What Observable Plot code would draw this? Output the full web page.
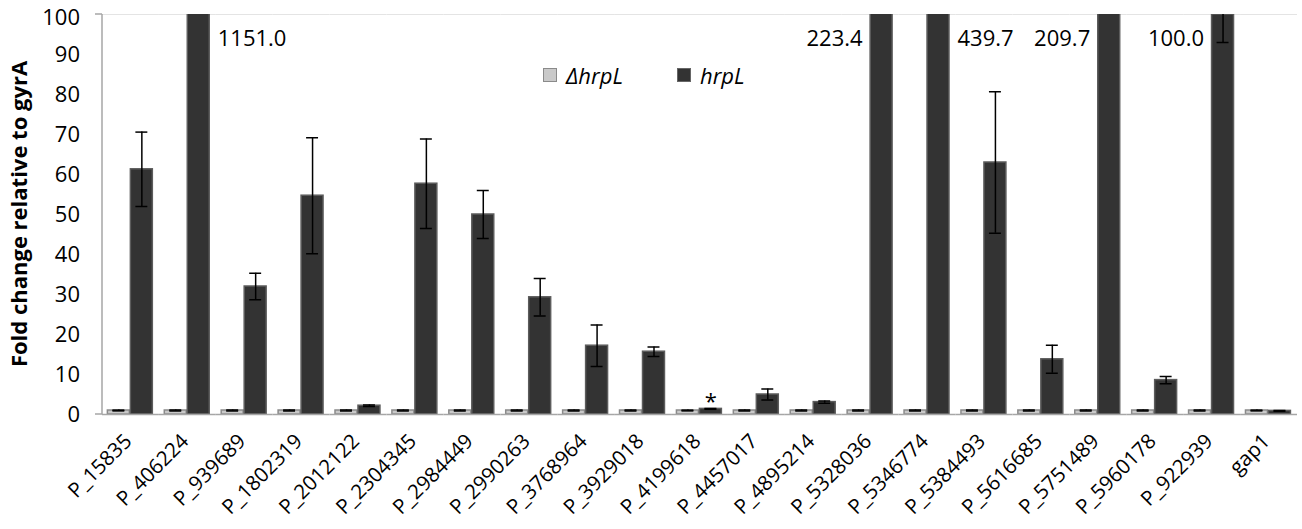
<!DOCTYPE html>
<html>
<head>
<meta charset="utf-8">
<script src="https://cdn.jsdelivr.net/npm/d3@7"></script>
<script src="https://cdn.jsdelivr.net/npm/@observablehq/plot@0.6"></script>
<style>
  body { margin: 0; background: white; }
  #wrap { position: relative; width: 1302px; height: 529px; }
  #legend { position: absolute; left: 543px; top: 60px; font-family: "Open Sans", sans-serif; font-size: 22px; font-style: italic; display: flex; align-items: center; }
  #legend .sw { display: inline-block; width: 12px; height: 12px; margin-right: 9px; }
  #legend .item { display: flex; align-items: center; }
</style>
</head>
<body>
<div id="wrap">
  <div id="legend">
    <span class="item" style="margin-right:54px"><span class="sw" style="background:#c9c9c9;border:1.5px solid #8a8a8a"></span>ΔhrpL</span>
    <span class="item"><span class="sw" style="background:#333;border:1.5px solid #666"></span>hrpL</span>
  </div>
</div>
<script>
const categories = ["P_15835","P_406224","P_939689","P_1802319","P_2012122","P_2304345","P_2984449","P_2990263","P_3768964","P_3929018","P_4199618","P_4457017","P_4895214","P_5328036","P_5346774","P_5384493","P_5616685","P_5751489","P_5960178","P_922939","gap1"];
const series = ["ΔhrpL", "hrpL"];
const dhrpLValues = [1.0,1.0,1.0,1.0,1.0,1.0,1.0,1.0,1.0,1.0,1.0,1.0,1.0,1.0,1.0,1.0,1.0,1.0,1.0,1.0,1.0];
const dhrpLErr    = [0.1,0.1,0.1,0.1,0.1,0.1,0.1,0.1,0.1,0.1,0.1,0.1,0.1,0.1,0.1,0.1,0.1,0.1,0.1,0.1,0.1];
const hrpLValues  = [61.3,1151.0,32.0,54.7,2.2,57.7,50.0,29.3,17.2,15.7,1.4,5.0,3.1,223.4,439.7,63.0,13.8,209.7,8.6,100.0,0.9];
const hrpLErr     = [9.3,0,3.3,14.5,0.2,11.2,6.0,4.7,5.2,1.2,0.1,1.4,0.3,0,0,17.7,3.5,0,0.9,7.0,0.1];
const overflowCats  = ["P_406224","P_5328036","P_5346774","P_5751489","P_922939"];
const overflowTexts = ["1151.0","223.4","439.7","209.7","100.0"];
const overflowSide  = ["right","left","right","left","left"];
const starCats = ["P_4199618"];
const yTicks = [0,10,20,30,40,50,60,70,80,90,100];

const rows = [];
categories.forEach((c, i) => {
  rows.push({cat: c, series: "ΔhrpL", value: dhrpLValues[i], lo: dhrpLValues[i] - dhrpLErr[i], hi: dhrpLValues[i] + dhrpLErr[i]});
  rows.push({cat: c, series: "hrpL", value: hrpLValues[i], lo: hrpLValues[i] - hrpLErr[i], hi: hrpLValues[i] + hrpLErr[i]});
});
const labels = overflowCats.map((c, i) => ({cat: c, text: overflowTexts[i], side: overflowSide[i], series: "hrpL"}));
const fillOf = s => s === "hrpL" ? "#333333" : "#c9c9c9";
const strokeOf = s => s === "hrpL" ? "#5c5c5c" : "#8a8a8a";
const FONT = "Open Sans, sans-serif";

const chart = Plot.plot({
  width: 1302,
  height: 529,
  marginLeft: 102,
  marginRight: 5,
  marginTop: 14,
  marginBottom: 115,
  style: {fontFamily: FONT, fontSize: "22px", color: "black", background: "white"},
  fx: {domain: categories, paddingInner: 0, paddingOuter: 0, round: false, label: null, axis: null},
  x: {domain: series, paddingInner: 0.045, paddingOuter: 0.26, align: 0.45, round: false, axis: null},
  y: {domain: [0, 100], label: null, axis: null},
  marks: [
    Plot.ruleY([100], {stroke: "#e4e4e4"}),
    Plot.barY(rows, {fx: "cat", x: "series", y: "value", fill: d => fillOf(d.series), stroke: d => strokeOf(d.series), strokeWidth: 1.5, clip: true}),
    Plot.ruleX(rows, {fx: "cat", x: "series", y1: "lo", y2: "hi", stroke: "black", strokeWidth: 1.5, clip: true}),
    Plot.tickY(rows, {fx: "cat", x: "series", y: "lo", stroke: "black", strokeWidth: 1.5, insetLeft: 5, insetRight: 5, clip: true}),
    Plot.tickY(rows, {fx: "cat", x: "series", y: "hi", stroke: "black", strokeWidth: 1.5, insetLeft: 5, insetRight: 5, clip: true}),
    Plot.ruleY([0], {stroke: "#a6a6a6", strokeWidth: 1.5}),
    Plot.text(labels.filter(d => d.side === "right"), {fx: "cat", x: "series", y: 94, text: "text", textAnchor: "start", dx: 19, fontSize: 22}),
    Plot.text(labels.filter(d => d.side === "left"), {fx: "cat", x: "series", y: 94, text: "text", textAnchor: "end", dx: -19, fontSize: 22}),
    Plot.text(starCats, {fx: d => d, x: () => "hrpL", y: 3.2, text: () => "*", fontSize: 22}),
    // category tick labels, rotated 45 degrees below each group
    Plot.text(categories, {fx: d => d, frameAnchor: "bottom", text: d => d, rotate: -45, textAnchor: "end", dx: 2, dy: 28, fontSize: 20.5})
  ]
});
const wrap = document.getElementById("wrap");
wrap.prepend(chart);

const svg = d3.select(chart);
const y = chart.scale("y");
// y axis line and end ticks
svg.append("line")
  .attr("x1", 102).attr("x2", 102)
  .attr("y1", y.apply(100)).attr("y2", y.apply(0))
  .attr("stroke", "#a6a6a6").attr("stroke-width", 1.5);
[0, 100].forEach(v => {
  svg.append("line")
    .attr("x1", 95).attr("x2", 102)
    .attr("y1", y.apply(v)).attr("y2", y.apply(v))
    .attr("stroke", "#a6a6a6").attr("stroke-width", 1.5);
});
// y tick labels
yTicks.forEach(v => {
  svg.append("text")
    .attr("x", 80).attr("y", y.apply(v)).attr("dy", v === 100 ? "0.5em" : "0.35em")
    .attr("text-anchor", "end")
    .attr("font-size", 22).attr("font-family", FONT)
    .text(v);
});
// y axis title
svg.append("text")
  .attr("transform", `translate(27,${(y.apply(0) + y.apply(100)) / 2}) rotate(-90)`)
  .attr("text-anchor", "middle")
  .attr("font-weight", "bold")
  .attr("font-size", 22)
  .attr("font-family", FONT)
  .text("Fold change relative to gyrA");
</script>
</body>
</html>
